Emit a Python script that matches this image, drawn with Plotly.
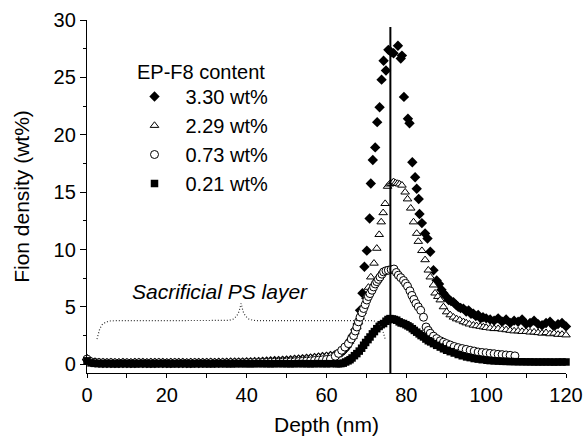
import plotly.graph_objects as go

# ---------------- data ----------------
series_names = ["3.30 wt%", "2.29 wt%", "0.73 wt%", "0.21 wt%"]
legend_title = "EP-F8 content"

depth_flat = [0, 1, 2, 3, 4, 5, 6, 7, 8, 9,
              10, 11, 12, 13, 14, 15, 16, 17, 18, 19,
              20, 21, 22, 23, 24, 25, 26, 27, 28, 29,
              30, 31, 32, 33, 34, 35, 36, 37, 38, 39,
              40, 41, 42, 43, 44, 45, 46, 47, 48, 49,
              50, 51, 52, 53, 54, 55, 56, 57, 58, 59,
              60, 61]

flat_330 = [0.40, 0.20, 0.15, 0.12, 0.11, 0.10, 0.11, 0.10, 0.10, 0.11,
            0.10, 0.10, 0.11, 0.12, 0.11, 0.10, 0.11, 0.11, 0.12, 0.11,
            0.10, 0.11, 0.12, 0.11, 0.11, 0.10, 0.11, 0.12, 0.11, 0.12,
            0.12, 0.13, 0.12, 0.13, 0.14, 0.14, 0.15, 0.15, 0.16, 0.17,
            0.18, 0.19, 0.20, 0.21, 0.22, 0.24, 0.26, 0.28, 0.30, 0.32,
            0.34, 0.36, 0.39, 0.42, 0.45, 0.48, 0.51, 0.55, 0.59, 0.63,
            0.67, 0.72]
flat_229 = [0.55, 0.25, 0.18, 0.15, 0.14, 0.13, 0.14, 0.13, 0.12, 0.13,
            0.13, 0.12, 0.13, 0.14, 0.13, 0.12, 0.13, 0.13, 0.14, 0.13,
            0.12, 0.13, 0.14, 0.13, 0.13, 0.12, 0.13, 0.14, 0.13, 0.14,
            0.14, 0.15, 0.14, 0.15, 0.16, 0.16, 0.17, 0.17, 0.18, 0.19,
            0.20, 0.21, 0.22, 0.24, 0.25, 0.27, 0.29, 0.31, 0.33, 0.35,
            0.37, 0.40, 0.43, 0.46, 0.49, 0.52, 0.56, 0.60, 0.64, 0.68,
            0.72, 0.77]
flat_073 = [0.45, 0.22, 0.16, 0.14, 0.13, 0.12, 0.13, 0.12, 0.11, 0.12,
            0.12, 0.11, 0.12, 0.13, 0.12, 0.11, 0.12, 0.12, 0.13, 0.12,
            0.11, 0.12, 0.13, 0.12, 0.12, 0.11, 0.12, 0.13, 0.12, 0.12,
            0.12, 0.13, 0.12, 0.12, 0.13, 0.12, 0.13, 0.13, 0.14, 0.13,
            0.14, 0.14, 0.15, 0.15, 0.16, 0.16, 0.17, 0.18, 0.18, 0.19,
            0.20, 0.21, 0.22, 0.24, 0.26, 0.28, 0.30, 0.33, 0.36, 0.39,
            0.42, 0.46]
flat_021 = [0.30, 0.12, 0.08, 0.06, 0.05, 0.06, 0.05, 0.04, 0.05, 0.06,
            0.05, 0.05, 0.04, 0.05, 0.06, 0.05, 0.04, 0.05, 0.05, 0.06,
            0.05, 0.04, 0.05, 0.05, 0.06, 0.05, 0.04, 0.05, 0.06, 0.05,
            0.05, 0.04, 0.05, 0.06, 0.05, 0.05, 0.04, 0.05, 0.06, 0.05,
            0.05, 0.04, 0.05, 0.06, 0.05, 0.05, 0.04, 0.05, 0.06, 0.05,
            0.05, 0.04, 0.05, 0.06, 0.05, 0.05, 0.04, 0.05, 0.06, 0.05,
            0.05, 0.05]

depth_330 = [62.0, 62.6, 63.2, 63.8, 64.4, 65.0, 65.5, 66.0, 66.6, 67.2,
             67.8, 68.4, 69.0, 69.5, 70.1, 70.8, 71.1, 71.6, 72.2, 72.7,
             73.3, 73.8, 74.3, 74.9, 75.5, 76.2, 76.8, 77.9, 78.6, 78.9,
             79.4, 80.4, 80.8, 81.5, 82.2, 82.6, 83.1, 83.3, 83.9, 84.7,
             85.3, 86.0, 86.8, 87.6, 88.2, 88.8, 89.3, 90.0, 90.6, 91.2,
             91.8, 92.4, 93.0, 93.6, 94.3, 95.0, 95.6, 96.2, 96.8, 97.4,
             98.0, 98.6, 99.2, 100.0, 101.0, 102.0, 103.0, 104.0, 105.0, 106.0,
             107.0, 108.0, 109.0, 110.0, 111.0, 112.0, 113.0, 114.0, 115.0, 116.0,
             117.0, 118.0, 119.0, 120.0]
peak_330 = [0.78, 0.85, 0.95, 1.05, 1.25, 1.5, 1.8, 2.1, 2.5, 3.0,
            3.5, 4.7, 6.2, 8.5, 9.9, 12.7, 15.75, 17.8, 18.9, 21.1,
            22.4, 24.8, 26.45, 25.6, 27.4, 27.2, 27.1, 27.75, 26.65, 26.9,
            23.3, 21.4, 21.0, 17.6, 16.3, 15.3, 14.4, 13.1, 12.3, 11.4,
            10.96, 9.8, 8.2, 7.3, 7.0, 6.5, 6.2, 5.9, 5.6, 5.5,
            5.4, 5.2, 5.0, 4.9, 4.85, 4.6, 4.7, 4.4, 4.4, 4.2,
            4.3, 4.0, 4.1, 4.0, 3.9, 3.8, 4.0, 3.7, 3.9, 3.6,
            3.8, 3.7, 3.9, 3.5, 3.6, 3.8, 3.5, 3.4, 3.6, 3.7,
            3.3, 3.5, 3.6, 3.3]

depth_229 = [62.2, 62.8, 63.4, 64.0, 64.6, 65.1, 65.8, 66.6, 67.1, 67.6,
             68.0, 68.4, 68.9, 69.3, 69.9, 70.5, 71.1, 71.9, 72.6, 73.2,
             73.7, 74.2, 74.7, 75.3, 75.8, 76.3, 76.8, 77.3, 77.8, 78.3,
             78.9, 79.7, 80.3, 81.1, 81.8, 82.6, 83.0, 83.9, 84.7, 85.5,
             86.0, 86.8, 87.2, 87.9, 88.5, 89.3, 90.1, 91.0, 91.8, 92.6,
             93.4, 94.3, 95.0, 95.8, 96.8, 97.6, 98.5, 99.3, 100.0, 101.0,
             102.0, 103.0, 104.0, 105.0, 106.0, 107.0, 108.0, 109.0, 110.0, 111.0,
             112.0, 113.0, 114.0, 115.0, 116.0, 117.0, 118.0, 119.0, 120.0]
peak_229 = [0.85, 0.95, 1.07, 1.25, 1.45, 1.66, 2.0, 2.4, 2.8, 3.25,
            3.7, 4.1, 4.6, 5.0, 5.9, 6.7, 7.6, 8.8, 10.1, 11.3,
            12.4, 13.2, 14.0, 15.5, 15.7, 15.75, 15.9, 15.8, 15.75, 15.7,
            15.6, 15.0, 14.4, 13.6, 12.4, 11.4, 10.7, 9.9, 9.1, 8.2,
            7.6, 6.9, 6.2, 5.9, 5.6, 5.0, 4.56, 4.3, 4.1, 3.95,
            3.85, 3.7, 3.6, 3.5, 3.4, 3.35, 3.3, 3.25, 3.2, 3.15,
            3.1, 3.1, 3.05, 3.0, 2.95, 2.9, 2.9, 2.85, 2.85, 2.8,
            2.8, 2.75, 2.7, 2.75, 2.65, 2.7, 2.6, 2.6, 2.55]

depth_073 = [62.2, 63.0, 63.8, 64.6, 65.5, 66.2, 66.8, 67.2, 67.6, 68.0,
             68.4, 68.9, 69.3, 69.7, 70.1, 70.5, 70.9, 71.4, 71.8, 72.2,
             72.6, 73.0, 73.4, 73.9, 74.3, 74.9, 75.5, 76.2, 76.9, 77.5,
             78.0, 78.6, 79.3, 79.8, 80.3, 80.9, 81.4, 81.9, 82.4, 83.0,
             83.6, 84.3, 84.95, 85.5, 86.0, 86.8, 87.6, 88.5, 89.3, 90.1,
             91.0, 92.0, 93.0, 94.0, 95.0, 96.0, 97.0, 98.0, 99.0, 100.0,
             101.0, 102.0, 103.0, 104.0, 105.0, 106.0, 107.2]
peak_073 = [0.7, 0.95, 1.22, 1.5, 1.8, 2.2, 2.5, 2.9, 3.25, 3.7,
            4.1, 4.5, 4.86, 5.2, 5.6, 5.9, 6.16, 6.45, 6.74, 7.0,
            7.2, 7.4, 7.6, 7.85, 8.05, 8.15, 8.2, 8.25, 8.3, 8.0,
            7.76, 7.55, 7.3, 7.05, 6.8, 6.4, 6.0, 5.65, 5.3, 5.0,
            4.7, 4.1, 3.25, 2.95, 2.7, 2.45, 2.24, 2.05, 1.92, 1.8,
            1.68, 1.55, 1.45, 1.37, 1.3, 1.22, 1.15, 1.07, 1.03, 1.0,
            0.95, 0.92, 0.87, 0.84, 0.81, 0.78, 0.73]

depth_021 = [62.5, 63.0, 63.6, 64.2, 64.8, 65.4, 65.9, 66.4, 67.0, 67.6,
             68.2, 68.8, 69.3, 69.8, 70.4, 70.9, 71.5, 72.0, 72.6, 73.2,
             73.7, 74.3, 74.9, 75.4, 75.9, 76.5, 77.0, 77.6, 78.2, 78.7,
             79.3, 79.9, 80.4, 80.9, 81.5, 82.0, 82.6, 83.2, 83.7, 84.3,
             84.9, 85.5, 86.1, 86.8, 87.6, 88.5, 89.3, 90.1, 91.0, 92.0,
             93.0, 94.0, 95.1, 96.0, 97.0, 98.0, 99.0, 100.2, 101.0, 102.0,
             103.0, 104.0, 105.0, 106.0, 107.0, 108.0, 109.0, 110.0, 111.0, 112.0,
             113.0, 114.0, 115.0, 116.0, 117.0, 118.0, 119.0, 120.0]
peak_021 = [0.05, 0.05, 0.06, 0.1, 0.2, 0.3, 0.4, 0.55, 0.75, 0.93,
            1.15, 1.4, 1.66, 1.9, 2.15, 2.38, 2.65, 2.85, 3.1, 3.3,
            3.45, 3.55, 3.75, 3.9, 3.98, 3.95, 3.9, 3.84, 3.7, 3.6,
            3.55, 3.45, 3.35, 3.25, 3.1, 2.95, 2.8, 2.65, 2.5, 2.38,
            2.2, 2.05, 1.95, 1.8, 1.65, 1.5, 1.35, 1.22, 1.1, 0.98,
            0.85, 0.74, 0.64, 0.58, 0.5, 0.45, 0.4, 0.35, 0.32, 0.3,
            0.28, 0.26, 0.25, 0.24, 0.23, 0.22, 0.22, 0.21, 0.21, 0.2,
            0.2, 0.2, 0.2, 0.2, 0.19, 0.2, 0.2, 0.2]

interface_depth = 76.0
interface_top = 29.4

brace_x = [2.5, 2.8, 3.2, 3.8, 4.6, 5.6, 7.0, 35.5, 36.7, 37.5, 38.1, 38.6,
           39.1, 39.7, 40.5, 41.7, 43.0, 71.8, 72.8, 73.6, 74.2, 74.7]
brace_y = [2.2, 2.7, 3.1, 3.45, 3.65, 3.77, 3.8, 3.82, 3.95, 4.2, 4.6, 5.3,
           4.6, 4.2, 3.95, 3.82, 3.8, 3.8, 3.65, 3.3, 2.8, 2.2]

# ---------------- figure ----------------
FONT = "Liberation Sans, Arial, sans-serif"
Y_MIN, Y_MAX = -0.76, 30

fig = go.Figure()

styles = {
    "3.30 wt%": dict(symbol="diamond", size=8, color="black", line=dict(width=0)),
    "2.29 wt%": dict(symbol="triangle-up", size=7.5, color="white", line=dict(width=1, color="black")),
    "0.73 wt%": dict(symbol="circle", size=8, color="white", line=dict(width=1, color="black")),
    "0.21 wt%": dict(symbol="square", size=7.5, color="black", line=dict(width=0)),
}
data = {
    "3.30 wt%": (depth_flat + depth_330, flat_330 + peak_330),
    "2.29 wt%": (depth_flat + depth_229, flat_229 + peak_229),
    "0.73 wt%": (depth_flat + depth_073, flat_073 + peak_073),
    "0.21 wt%": (depth_flat + depth_021, flat_021 + peak_021),
}
for name in series_names:
    xs, ys = data[name]
    fig.add_trace(go.Scatter(
        x=xs, y=ys, mode="markers", name=name,
        marker=styles[name], cliponaxis=False,
    ))

# brace annotation line
fig.add_trace(go.Scatter(
    x=brace_x, y=brace_y, mode="lines", showlegend=False, hoverinfo="skip",
    line=dict(color="#333333", width=1.2, dash="1px,2px"),
))

fig.add_shape(type="line", xref="x", yref="y",
              x0=interface_depth, x1=interface_depth, y0=Y_MIN, y1=interface_top,
              line=dict(color="black", width=2))

fig.add_annotation(x=33.4, y=6.3, xref="x", yref="y", text="<i>Sacrificial PS layer</i>",
                   showarrow=False, font=dict(family=FONT, size=21, color="black"))

# plot area (in pixels): left 87, right 566, top 20, bottom 373
fig.add_annotation(x=(135 - 87) / 479, y=(373 - 72) / 353, xref="paper", yref="paper",
                   text=legend_title, showarrow=False, xanchor="left", yanchor="middle",
                   font=dict(family=FONT, size=20, color="black"))

fig.update_layout(
    width=583, height=440,
    margin=dict(l=87, r=17, t=20, b=67, autoexpand=False),
    paper_bgcolor="white", plot_bgcolor="white",
    font=dict(family=FONT, size=20, color="black"),
    showlegend=True,
    legend=dict(
        x=(123.5 - 87) / 479, y=(373 - 77) / 353, xanchor="left", yanchor="top",
        bgcolor="rgba(0,0,0,0)", borderwidth=0,
        font=dict(family=FONT, size=20),
        itemwidth=52, tracegroupgap=0,
    ),
    xaxis=dict(
        range=[0, 120], showgrid=False, zeroline=False, automargin=False,
        showline=True, linecolor="black", linewidth=1.3,
        ticks="outside", ticklen=4, tickwidth=1.3, tickcolor="black",
        tick0=0, dtick=20,
        minor=dict(dtick=10, ticks="outside", ticklen=4, tickwidth=1.3, tickcolor="black"),
        tickfont=dict(family=FONT, size=20),
        title=dict(text="Depth (nm)", font=dict(family=FONT, size=21), standoff=12),
    ),
    yaxis=dict(
        range=[Y_MIN, Y_MAX], showgrid=False, zeroline=False, automargin=False,
        showline=True, linecolor="black", linewidth=1.3,
        ticks="outside", ticklen=6, tickwidth=1.3, tickcolor="black",
        tick0=0, dtick=5,
        minor=dict(dtick=2.5, ticks="outside", ticklen=3, tickwidth=1.3, tickcolor="black"),
        tickfont=dict(family=FONT, size=20),
        title=dict(text="Fion density (wt%)", font=dict(family=FONT, size=21), standoff=18),
    ),
)

fig.write_html("out.html",
               config={"displayModeBar": False},
               post_script="document.body.style.margin='0';document.body.style.overflow='hidden';")
